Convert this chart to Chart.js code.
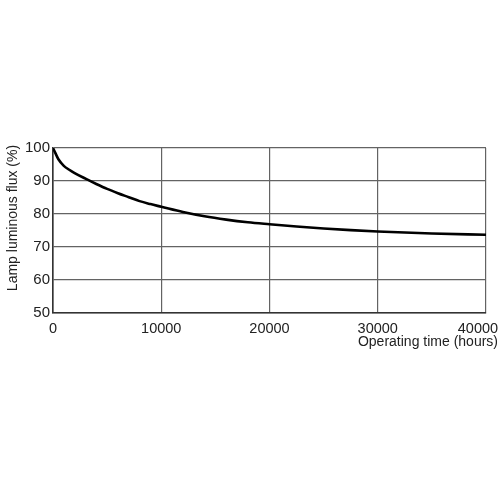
<!DOCTYPE html>
<html>
<head>
<meta charset="utf-8">
<script src="https://cdn.jsdelivr.net/npm/chart.js@4"></script>
<style>
  html, body { margin: 0; padding: 0; background: #fff; overflow: hidden; }
  #wrap { width: 500px; height: 500px; }
</style>
</head>
<body>
<div id="wrap"><canvas id="fluxChart" width="500" height="500"></canvas></div>
<script>
// operating hours vs. remaining luminous flux (%)
const hours = [0, 200, 500, 1000, 1500, 2000, 3000, 4000, 5000, 6000, 7000, 8000, 9000, 10000,
  12000, 14000, 16000, 18000, 20000, 22500, 25000, 27500, 30000, 35000, 40000];
const flux = [100, 98.6, 96.6, 94.6, 93.4, 92.4, 90.7, 89.1, 87.6, 86.3, 85.1, 83.9, 83.0, 82.2,
  80.6, 79.3, 78.3, 77.5, 76.9, 76.2, 75.6, 75.1, 74.7, 74.1, 73.7];
const xTicks = [0, 10000, 20000, 30000, 40000];
const yTicks = [50, 60, 70, 80, 90, 100];
const xTitle = 'Operating time (hours)';
const yTitle = 'Lamp luminous flux (%)';

const FONT = "'Liberation Sans', Arial, sans-serif";
const GRID = '#636363';
const AXIS = '#333';

// axis titles sit off-centre in the original, so draw them by hand
const axisTitles = {
    id: 'axisTitles',
    afterDraw(chart) {
        const { ctx, chartArea } = chart;
        ctx.save();
        ctx.fillStyle = '#222';
        ctx.font = `14px ${FONT}`;
        ctx.textAlign = 'right';
        ctx.textBaseline = 'middle';
        ctx.fillText(xTitle, chart.width - 2, chartArea.bottom + 29);

        ctx.translate(13, 218);
        ctx.rotate(-Math.PI / 2);
        ctx.textAlign = 'center';
        ctx.fillText(yTitle, 0, 0);
        ctx.restore();
    },
};

new Chart(document.getElementById('fluxChart'), {
    type: 'scatter',
    data: {
        datasets: [{
            data: hours.map((h, i) => ({ x: h, y: flux[i] })),
            showLine: true,
            borderColor: '#000',
            borderWidth: 2.6,
            pointRadius: 0,
            cubicInterpolationMode: 'monotone',
        }],
    },
    options: {
        responsive: false,
        animation: false,
        layout: { padding: { left: 0, top: 148, right: 14, bottom: 0 } },
        plugins: { legend: { display: false }, tooltip: { enabled: false } },
        scales: {
            x: {
                min: 0, max: 40000,
                afterBuildTicks: (s) => { s.ticks = xTicks.map((v) => ({ value: v })); },
                afterFit: (s) => { s.height = 187; s.paddingLeft = 0; s.paddingRight = 0; },
                ticks: {
                    color: '#222', font: { family: FONT, size: 14.5 }, padding: 7, maxRotation: 0,
                    // last label is nudged left so it stays on the page, like the original
                    callback: (v) => (v === 40000 ? String(v) + '    ' : String(v)),
                },
                grid: { color: GRID, lineWidth: 1.2, drawTicks: false },
                border: { color: AXIS, width: 1.6 },
            },
            y: {
                min: 50, max: 100,
                afterBuildTicks: (s) => { s.ticks = yTicks.map((v) => ({ value: v })); },
                afterFit: (s) => { s.width = 53; s.paddingTop = 0; s.paddingBottom = 0; },
                ticks: { color: '#222', font: { family: FONT, size: 15 }, padding: 3 },
                grid: { color: GRID, lineWidth: 1.2, drawTicks: false },
                border: { color: AXIS, width: 1.6 },
            },
        },
    },
    plugins: [axisTitles],
});
</script>
</body>
</html>
